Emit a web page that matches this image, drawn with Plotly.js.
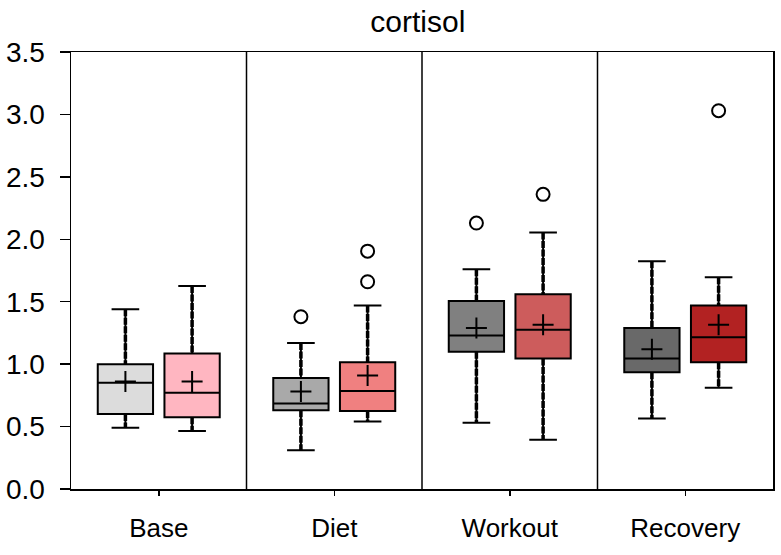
<!DOCTYPE html>
<html>
<head>
<meta charset="utf-8">
<script src="https://cdn.plot.ly/plotly-3.0.1.min.js"></script>
<style>
  html, body { margin: 0; padding: 0; background: #fff; }
  #chart { width: 781px; height: 555px; }
</style>
</head>
<body>
<div id="chart"></div>
<script>
// cortisol box plots, two series per phase

const categories = ['Base', 'Diet', 'Workout', 'Recovery'];

// first series (grey boxes)
const grayLower  = [0.49, 0.31, 0.53, 0.565];
const grayQ1     = [0.60, 0.63, 1.10, 0.935];
const grayMedian = [0.85, 0.685, 1.23, 1.045];
const grayQ3     = [1.00, 0.89, 1.505, 1.29];
const grayUpper  = [1.44, 1.17, 1.76, 1.825];
const grayMean   = [0.86, 0.78, 1.29, 1.12];
const grayOutliers = [[], [1.38], [2.13], []];

// second series (red boxes)
const redLower  = [0.465, 0.54, 0.395, 0.81];
const redQ1     = [0.575, 0.625, 1.045, 1.015];
const redMedian = [0.77, 0.785, 1.275, 1.215];
const redQ3     = [1.085, 1.015, 1.56, 1.47];
const redUpper  = [1.625, 1.47, 2.055, 1.695];
const redMean   = [0.86, 0.91, 1.315, 1.315];
const redOutliers = [[], [1.66, 1.905], [2.36], [3.03]];

const grayColors = ['#dcdcdc', '#a9a9a9', '#808080', '#696969'];
const redColors  = ['#ffb6c1', '#f08080', '#cd5c5c', '#b22222'];

const offset = 0.19;
const boxWidth = 0.315;

const series = [
    { shift: -offset, lower: grayLower, q1: grayQ1, med: grayMedian, q3: grayQ3, upper: grayUpper, mean: grayMean, out: grayOutliers, colors: grayColors },
    { shift: offset, lower: redLower, q1: redQ1, med: redMedian, q3: redQ3, upper: redUpper, mean: redMean, out: redOutliers, colors: redColors }
];

const traces = [];
const whiskX = [], whiskY = [];
const meanX = [], meanY = [];
const outX = [], outY = [];

series.forEach(s => {
    categories.forEach((c, i) => {
        const pos = i + s.shift;
        traces.push({
            type: 'box',
            x: [pos],
            q1: [s.q1[i]],
            median: [s.med[i]],
            q3: [s.q3[i]],
            lowerfence: [s.lower[i]],
            upperfence: [s.upper[i]],
            width: boxWidth,
            whiskerwidth: 0.5,
            fillcolor: s.colors[i],
            line: { color: '#000', width: 2 },
            hoverinfo: 'skip',
            showlegend: false
        });
        whiskX.push(pos, pos, null, pos, pos, null);
        whiskY.push(s.upper[i], s.q3[i], null, s.q1[i], s.lower[i], null);
        meanX.push(pos);
        meanY.push(s.mean[i]);
        s.out[i].forEach(v => { outX.push(pos); outY.push(v); });
    });
});

// dotted whiskers on top of the solid ones
traces.push({
    type: 'scatter', mode: 'lines', x: whiskX, y: whiskY,
    line: { color: '#000', width: 3.5, dash: '7px,1.5px' },
    hoverinfo: 'skip', showlegend: false
});
traces.push({
    type: 'scatter', mode: 'markers', x: meanX, y: meanY,
    marker: { symbol: 'cross-thin', size: 15, line: { color: '#000', width: 2 } },
    showlegend: false
});
traces.push({
    type: 'scatter', mode: 'markers', x: outX, y: outY,
    marker: { symbol: 'circle-open', size: 13, color: '#000', line: { color: '#000', width: 2 } },
    showlegend: false
});

const shapes = [0.5, 1.5, 2.5].map(x => ({
    type: 'line', xref: 'x', yref: 'paper', x0: x, x1: x, y0: 0, y1: 1,
    line: { color: '#000', width: 1.5 }
}));

const layout = {
    width: 781,
    height: 555,
    margin: { l: 71, r: 8, t: 52, b: 66 },
    paper_bgcolor: '#fff',
    plot_bgcolor: '#fff',
    font: { family: 'Liberation Sans, Arial, sans-serif', color: '#000', size: 26 },
    title: { text: 'cortisol', x: 0.535, xanchor: 'center', y: 0.962, yanchor: 'middle', font: { size: 30 } },
    boxmode: 'overlay',
    showlegend: false,
    xaxis: {
        range: [-0.5, 3.5],
        tickvals: [0, 1, 2, 3],
        ticktext: categories,
        tickfont: { size: 26 },
        ticks: 'outside', ticklen: 5, tickwidth: 1.5, tickcolor: '#000',
        ticklabelstandoff: 10,
        showline: true, mirror: true, linecolor: '#000', linewidth: 1.5,
        showgrid: false, zeroline: false
    },
    yaxis: {
        range: [0, 3.5],
        dtick: 0.5,
        tickformat: '.1f',
        tickfont: { size: 28 },
        ticks: 'outside', ticklen: 10, tickwidth: 1.5, tickcolor: '#000',
        ticklabelstandoff: 9,
        showline: true, mirror: true, linecolor: '#000', linewidth: 1.5,
        showgrid: false, zeroline: false
    },
    shapes: shapes
};

Plotly.newPlot('chart', traces, layout, { displayModeBar: false, staticPlot: true });
</script>
</body>
</html>
